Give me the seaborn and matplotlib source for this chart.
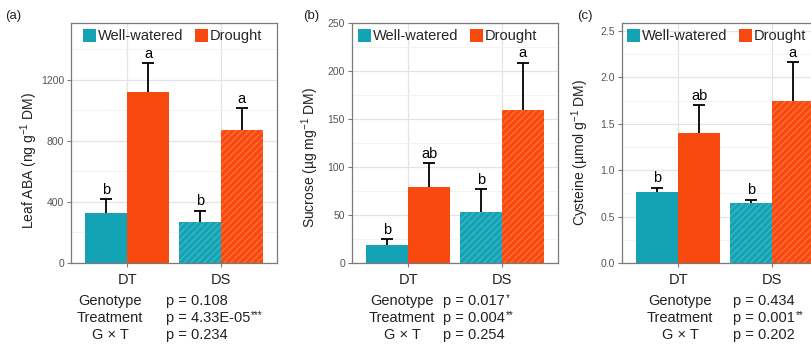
import matplotlib
matplotlib.use("Agg")
import matplotlib.pyplot as plt
import numpy as np
import pandas as pd
import seaborn as sns
from matplotlib.patches import Patch
from matplotlib.ticker import MultipleLocator, FormatStrFormatter

# ---- data ----
genotypes = ["DT", "DS"]
treatments = ["Well-watered", "Drought"]

aba_ww = [325, 270]
aba_ww_se = [95, 72]
aba_dr = [1118, 868]
aba_dr_se = [192, 144]
aba_letters_ww = ["b", "b"]
aba_letters_dr = ["a", "a"]

suc_ww = [19, 53]
suc_ww_se = [5.5, 24]
suc_dr = [79.5, 159.5]
suc_dr_se = [24.5, 48.5]
suc_letters_ww = ["b", "b"]
suc_letters_dr = ["ab", "a"]

cys_ww = [0.77, 0.645]
cys_ww_se = [0.04, 0.035]
cys_dr = [1.40, 1.745]
cys_dr_se = [0.30, 0.415]
cys_letters_ww = ["b", "b"]
cys_letters_dr = ["ab", "a"]

stat_terms = ["Genotype", "Treatment", "G \u00d7 T"]
aba_p = ["p = 0.108", "p = 4.33E-05", "p = 0.234"]
aba_sig = ["", "***", ""]
suc_p = ["p = 0.017", "p = 0.004", "p = 0.254"]
suc_sig = ["*", "**", ""]
cys_p = ["p = 0.434", "p = 0.001", "p = 0.202"]
cys_sig = ["", "**", ""]

# ---- style ----
sns.set_style("white")
plt.rcParams["font.family"] = ["Liberation Sans", "DejaVu Sans"]
plt.rcParams["mathtext.fontset"] = "custom"
plt.rcParams["mathtext.rm"] = "Liberation Sans"
plt.rcParams["mathtext.it"] = "Liberation Sans:italic"
plt.rcParams["mathtext.default"] = "regular"
plt.rcParams["hatch.linewidth"] = 0.8

TEAL = "#13A3B4"
ORANGE = "#F84A0E"
TEAL_HATCH = "#45B9C7"
ORANGE_HATCH = "#FF7744"
BORDER = "#7a7a7a"
TEXT = "#222222"
W, H = 812, 349

fig = plt.figure(figsize=(W / 100, H / 100), dpi=100)


def px_axes(left, right, top, bottom):
    return fig.add_axes([left / W, 1 - bottom / H, (right - left) / W, (bottom - top) / H])


def panel(ax, ww, ww_se, dr, dr_se, let_ww, let_dr, ylim, major, minor,
          ylabel, yfmt, legend_dx, label_off, ylabel_y):
    df = pd.DataFrame({
        "Genotype": genotypes * 2,
        "Treatment": [treatments[0]] * 2 + [treatments[1]] * 2,
        "value": list(ww) + list(dr),
    })
    sns.barplot(data=df, x="Genotype", y="value", hue="Treatment",
                order=genotypes, hue_order=treatments,
                palette=[TEAL, ORANGE], saturation=1, width=0.9,
                errorbar=None, legend=False, ax=ax, zorder=2)

    ses = [ww_se, dr_se]
    lets = [let_ww, let_dr]
    hatch_cols = [TEAL_HATCH, ORANGE_HATCH]
    bar_containers = list(ax.containers)
    for k, cont in enumerate(bar_containers):
        for i, bar in enumerate(cont.patches):
            x = bar.get_x() + bar.get_width() / 2
            y = bar.get_height()
            bar.set_linewidth(0)
            if genotypes[i] == "DS":
                bar.set_hatch("/////")
                bar.set_edgecolor(hatch_cols[k])
            eb = ax.errorbar([x], [y], yerr=[[0], [ses[k][i]]], fmt="none",
                             ecolor="black", elinewidth=1.3, capsize=4.5,
                             capthick=1.3, zorder=3)
            # upper-only error bar: hide the cap drawn at the bar top
            eb[1][0].set_visible(False)
            ax.text(x, y + ses[k][i] + label_off, lets[k][i], ha="center",
                    va="bottom", fontsize=10.5, color="black", zorder=4)

    ax.set_xlim(-0.6, 1.6)
    ax.set_ylim(*ylim)
    ax.yaxis.set_major_locator(MultipleLocator(major))
    ax.yaxis.set_minor_locator(MultipleLocator(minor))
    ax.yaxis.set_major_formatter(yfmt)
    ax.set_axisbelow(True)
    ax.grid(which="major", axis="both", color="#e4e4e4", lw=0.9)
    ax.grid(which="minor", axis="y", color="#f1f1f1", lw=0.6)
    for s in ax.spines.values():
        s.set_color(BORDER)
        s.set_linewidth(0.9)
    ax.tick_params(axis="y", which="major", length=3, width=0.8, color=BORDER,
                   labelsize=7.5, labelcolor="#555555", pad=2, left=True)
    ax.tick_params(axis="y", which="minor", length=0)
    ax.tick_params(axis="x", length=3, width=0.8, color=BORDER, labelsize=10.5,
                   labelcolor=TEXT, pad=4, bottom=True)
    ax.set_xlabel("")
    ax.set_ylabel(ylabel, fontsize=10, color=TEXT)
    ax.yaxis.set_label_coords(-0.152, ylabel_y)

    handles = [Patch(facecolor=TEAL, edgecolor="none"),
               Patch(facecolor=ORANGE, edgecolor="none")]
    ax.legend(handles, treatments, loc="center left", ncol=2, frameon=False,
              fontsize=10.5, handlelength=0.9, handleheight=1.0,
              handletextpad=0.15, columnspacing=0.75, borderpad=0,
              borderaxespad=0,
              bbox_to_anchor=(legend_dx / 206, 1 - 13.5 / 240.5))


def stats(center_x, p_x, pvals, sigs):
    rows = [301, 318, 335]
    for term, pv, sig, y in zip(stat_terms, pvals, sigs, rows):
        fig.text(center_x / W, 1 - y / H, term, ha="center", va="center",
                 fontsize=10.5, color=TEXT)
        t = fig.text(p_x / W, 1 - y / H, pv, ha="left", va="center",
                     fontsize=10.5, color=TEXT)
        if sig:
            # significance stars set small and raised after the p-value
            plt.annotate(sig, xy=(1, 1), xycoords=t, xytext=(0.5, 0.5),
                         textcoords="offset points", ha="left", va="top",
                         fontsize=7, color=TEXT, annotation_clip=False)


ax_a = px_axes(71, 277, 22.5, 263)
panel(ax_a, aba_ww, aba_ww_se, aba_dr, aba_dr_se, aba_letters_ww, aba_letters_dr,
      (0, 1575), 400, 200, "Leaf ABA (ng g$^{-1}$ DM)",
      FormatStrFormatter("%d"), 12, 15, 0.425)

ax_b = px_axes(352, 558, 22.5, 263)
panel(ax_b, suc_ww, suc_ww_se, suc_dr, suc_dr_se, suc_letters_ww, suc_letters_dr,
      (0, 250), 50, 25, "Sucrose (\u00b5g mg$^{-1}$ DM)",
      FormatStrFormatter("%d"), 6, 2.5, 0.44)

ax_c = px_axes(622, 828, 22.5, 263)
panel(ax_c, cys_ww, cys_ww_se, cys_dr, cys_dr_se, cys_letters_ww, cys_letters_dr,
      (0, 2.59), 0.5, 0.25, "Cysteine (\u00b5mol g$^{-1}$ DM)",
      FormatStrFormatter("%.1f"), 5, 0.026, 0.46)

stats(110, 166, aba_p, aba_sig)
stats(402, 443, suc_p, suc_sig)
stats(680, 733, cys_p, cys_sig)

for lab, x in [("(a)", 5), ("(b)", 303), ("(c)", 577)]:
    fig.text(x / W, 1 - 16 / H, lab, ha="left", va="center", fontsize=9.5,
             color=TEXT)

fig.savefig("out.png", dpi=100)
